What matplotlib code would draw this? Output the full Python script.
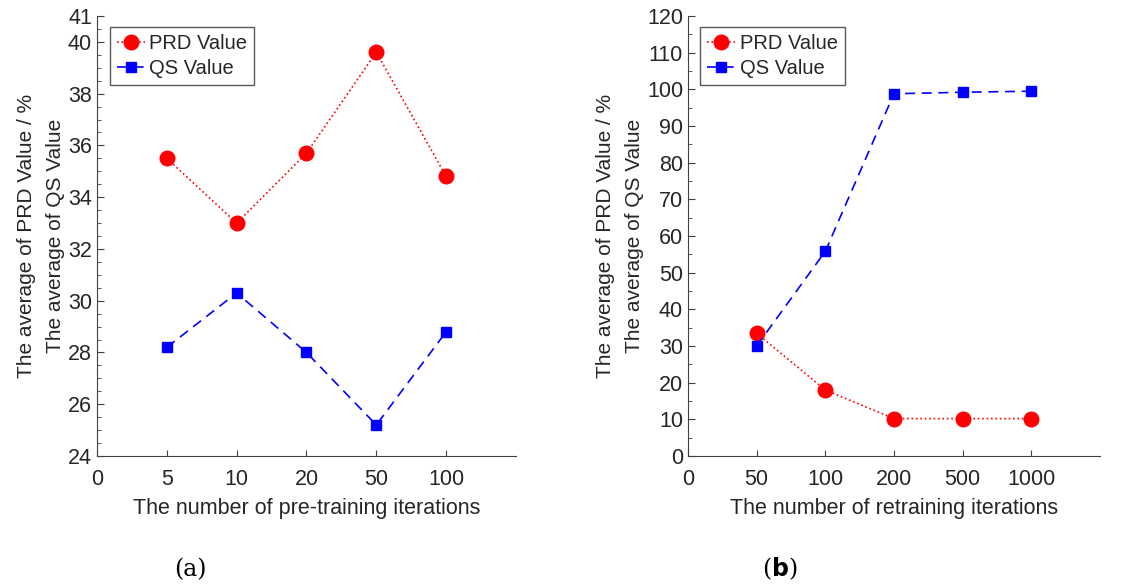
import matplotlib
matplotlib.use('Agg')
import matplotlib.pyplot as plt

plt.rcParams['font.family'] = ['Liberation Sans', 'DejaVu Sans']

# (a) pre-training iterations
pre_iters = ['5', '10', '20', '50', '100']
pre_prd = [35.5, 33.0, 35.7, 39.6, 34.8]
pre_qs = [28.2, 30.3, 28.0, 25.2, 28.8]

# (b) retraining iterations
re_iters = ['50', '100', '200', '500', '1000']
re_prd = [33.5, 18.0, 10.2, 10.2, 10.2]
re_qs = [30.0, 55.8, 98.8, 99.2, 99.5]

txt = '#262626'
ax_col = '#404040'

fig = plt.figure(figsize=(11.37, 5.86), dpi=100)
ax1 = fig.add_axes([0.0853, 0.2218, 0.3685, 0.7509])
ax2 = fig.add_axes([0.6050, 0.2218, 0.3625, 0.7509])


def draw(ax, labels, prd, qs, ylim, yticks, yminor, xlabel):
    x = list(range(1, len(labels) + 1))
    ax.plot(x, prd, ':', color='red', lw=1.2, marker='o', ms=10.5,
            markerfacecolor='red', markeredgecolor='red', label='PRD Value')
    ax.plot(x, qs, '--', color='blue', lw=1.2, marker='s', ms=7,
            markerfacecolor='blue', markeredgecolor='blue', label='QS Value', dashes=(6, 4))
    ax.set_xlim(0, 6)
    ax.set_ylim(*ylim)
    ax.set_xticks([0] + x)
    ax.set_xticklabels(['0'] + labels)
    ax.set_yticks(yticks)
    ax.set_yticks(yminor, minor=True)
    ax.tick_params(axis='both', which='both', direction='in', colors=ax_col,
                   labelcolor=txt, labelsize=15.5)
    ax.tick_params(axis='y', which='major', length=5)
    ax.tick_params(axis='y', which='minor', length=3)
    ax.tick_params(axis='x', length=4, pad=9)
    for s in ['top', 'right']:
        ax.spines[s].set_visible(False)
    for s in ['left', 'bottom']:
        ax.spines[s].set_color(ax_col)
    ax.set_xlabel(xlabel, fontsize=15.5, color=txt, labelpad=6)
    ax.set_ylabel('The average of PRD Value / %\nThe average of QS Value',
                  fontsize=15, color=txt, labelpad=2, linespacing=1.7)
    leg = ax.legend(loc='upper left', bbox_to_anchor=(0.03, 0.975), fontsize=14.5,
                    frameon=True, fancybox=False, handlelength=1.4,
                    handletextpad=0.2, borderpad=0.35, labelspacing=0.3,
                    borderaxespad=0)
    leg.get_frame().set_edgecolor('#303030')
    leg.get_frame().set_linewidth(1.0)
    for t in leg.get_texts():
        t.set_color(txt)


draw(ax1, pre_iters, pre_prd, pre_qs, (24, 41),
     [24, 26, 28, 30, 32, 34, 36, 38, 40, 41],
     [24 + 0.5 * i for i in range(34)],
     'The number of pre-training iterations')
draw(ax2, re_iters, re_prd, re_qs, (0, 120),
     list(range(0, 121, 10)), list(range(0, 121, 5)),
     'The number of retraining iterations')

fig.text(0.167, 0.016, '(a)', fontsize=17, family='DejaVu Serif', color='black', ha='center')
fig.text(0.686, 0.016, r'($\mathbf{b}$)', fontsize=17, family='DejaVu Serif', color='black', ha='center')

fig.savefig('out.png', dpi=100)
